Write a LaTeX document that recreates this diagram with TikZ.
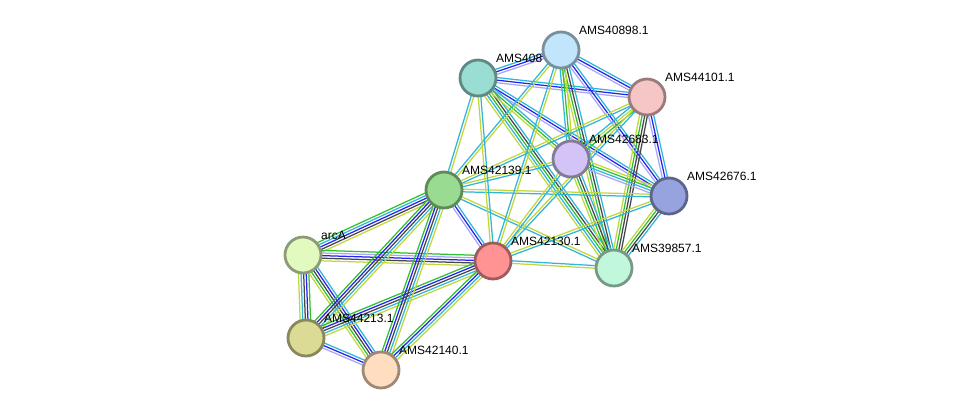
\documentclass[tikz,border=0pt]{standalone}
\usepackage{fontspec}
\setmainfont{Liberation Sans}
\usepackage{xcolor}
\definecolor{cTxt}{HTML}{C2D73C}
\definecolor{cDb}{HTML}{2FB6DA}
\definecolor{cCoex}{HTML}{464646}
\definecolor{cOcc}{HTML}{2424F0}
\definecolor{cHom}{HTML}{A9A6F8}
\definecolor{cNbr}{HTML}{30C030}
\definecolor{pTeal}{HTML}{99DDD3}
\definecolor{pSky}{HTML}{C1E6FB}
\definecolor{pPink}{HTML}{F6C6C6}
\definecolor{pLav}{HTML}{D3C3F6}
\definecolor{pBlue}{HTML}{97A3DE}
\definecolor{pGreen}{HTML}{9ADB92}
\definecolor{pLime}{HTML}{E2FAC0}
\definecolor{pRed}{HTML}{FF9393}
\definecolor{pMint}{HTML}{C1F7DB}
\definecolor{pOlive}{HTML}{DCDB96}
\definecolor{pPeach}{HTML}{FFDDC0}
\usetikzlibrary{calc,backgrounds}
\tikzset{
  node-prot/.style={circle,line width=2.8pt,minimum size=36pt,inner sep=0pt},
  node-lbl/.style={anchor=base west,inner sep=0pt,font=\fontsize{12}{14}\selectfont},
  edge-line/.style={line width=1.25pt},
}
% one line per evidence channel, side by side
\newcommand{\lnk}[3]{%
  \foreach \ec [count=\n] in {#3} {\xdef\lnkn{\n}}%
  \foreach \ec [count=\i] in {#3} {%
    \pgfmathsetlengthmacro{\lnko}{(\i-(\lnkn+1)/2)*2.6pt}%
    \draw[edge-line,\ec] ($(#1)!\lnko!90:(#2)$) -- ($(#2)!\lnko!-90:(#1)$);
  }}
\newcommand{\prot}[4]{%
  \node[node-prot,fill=#3,draw=#3!62!black] (#1) at (#2) {};
  \node[node-lbl] (l-#1) at ([shift={(18,-16)}]#1.center) {#4};}

\begin{document}
\begin{tikzpicture}[x=1pt,y=-1pt]
  \useasboundingbox (0,0) rectangle (976,416);

  \prot{t}{478,78}{pTeal}{AMS408}
  \prot{a}{561,50}{pSky}{AMS40898.1}
  \prot{p}{647,97}{pPink}{AMS44101.1}
  \prot{v}{571,159}{pLav}{AMS42683.1}
  \prot{n}{669,196}{pBlue}{AMS42676.1}
  \prot{g}{444,190}{pGreen}{AMS42139.1}
  \prot{c}{303,255}{pLime}{arcA}
  \prot{r}{493,261}{pRed}{AMS42130.1}
  \prot{m}{614,268}{pMint}{AMS39857.1}
  \prot{e}{306,338}{pOlive}{AMS44213.1}
  \prot{f}{381,370}{pPeach}{AMS42140.1}

  \begin{scope}[on background layer]
    \lnk{t}{a}{cHom,cOcc,cDb}
    \lnk{t}{p}{cHom,cOcc,cDb}
    \lnk{a}{p}{cHom,cOcc,cDb}
    \lnk{t}{n}{cHom,cOcc,cDb}
    \lnk{a}{n}{cHom,cOcc,cDb}
    \lnk{p}{n}{cHom,cOcc,cDb}
    \lnk{t}{m}{cTxt,cDb,cNbr,cCoex,cDb}
    \lnk{a}{m}{cTxt,cNbr,cCoex,cDb}
    \lnk{p}{m}{cTxt,cNbr,cCoex,cCoex}
    \lnk{v}{m}{cTxt,cNbr,cCoex,cDb}
    \lnk{n}{m}{cTxt,cNbr,cCoex,cDb}
    \lnk{t}{v}{cTxt,cNbr,cDb}
    \lnk{a}{v}{cDb,cNbr,cTxt}
    \lnk{p}{v}{cDb,cTxt,cNbr}
    \lnk{v}{n}{cHom,cDb,cNbr,cTxt}
    \lnk{g}{t}{cTxt,cDb}
    \lnk{g}{a}{cTxt,cDb}
    \lnk{g}{p}{cDb,cTxt}
    \lnk{g}{v}{cDb,cTxt}
    \lnk{g}{n}{cDb,cTxt}
    \lnk{g}{m}{cDb,cTxt}
    \lnk{g}{r}{cHom,cOcc,cDb}
    \lnk{r}{t}{cDb,cTxt}
    \lnk{r}{a}{cTxt,cDb}
    \lnk{r}{p}{cDb,cTxt}
    \lnk{r}{v}{cDb,cTxt}
    \lnk{r}{n}{cDb,cTxt}
    \lnk{r}{m}{cTxt,cDb}
    \lnk{c}{g}{cTxt,cCoex,cOcc,cDb,cNbr}
    \lnk{c}{r}{cTxt,cCoex,cOcc,cHom,cNbr}
    \lnk{c}{e}{cTxt,cDb,cCoex,cOcc,cNbr}
    \lnk{c}{f}{cTxt,cNbr,cCoex,cOcc,cDb}
    \lnk{e}{f}{cHom,cOcc,cDb}
    \lnk{e}{g}{cTxt,cDb,cCoex,cOcc,cNbr}
    \lnk{e}{r}{cTxt,cDb,cCoex,cOcc,cNbr}
    \lnk{f}{g}{cTxt,cDb,cCoex,cOcc,cNbr}
    \lnk{f}{r}{cTxt,cDb,cOcc,cNbr}
  \end{scope}
\end{tikzpicture}
\end{document}
